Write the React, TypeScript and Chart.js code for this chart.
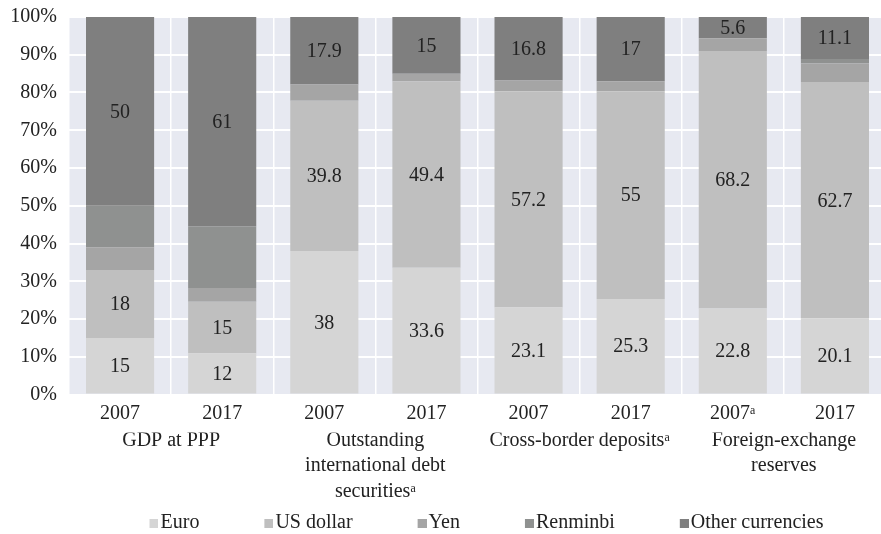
import React, { useEffect, useRef } from 'react';
import { Chart, registerables } from 'chart.js';

Chart.register(...registerables);

// ---- data ----
const yearLabels = ['2007', '2017', '2007', '2017', '2007', '2017', '2007ᵃ', '2017'];
const groupLabels = [
  ['GDP at PPP'],
  ['Outstanding', 'international debt', 'securitiesᵃ'],
  ['Cross-border depositsᵃ'],
  ['Foreign-exchange', 'reserves'],
];
const seriesNames = ['Euro', 'US dollar', 'Yen', 'Renminbi', 'Other currencies'];
const euro = [15, 12, 38, 33.6, 23.1, 25.3, 22.8, 20.1];
const usDollar = [18, 15, 39.8, 49.4, 57.2, 55, 68.2, 62.7];
const yen = [6, 4, 4.3, 2, 2.9, 2.7, 3.4, 4.9];
const renminbi = [11, 18, 0, 0, 0, 0, 0, 1.2];
const other = [50, 61, 17.9, 15, 16.8, 17, 5.6, 11.1];
const seriesLabelled = [true, true, false, false, true];
const yTicks = [0, 10, 20, 30, 40, 50, 60, 70, 80, 90, 100];

// ---- styles ----
const seriesColors = ['#d5d5d5', '#bfbfbf', '#a5a5a5', '#8f9190', '#7f7f7f'];
const plotBg = '#e7e9f1';
const textColor = '#222222';
const FONT = '"Liberation Serif", "DejaVu Serif", serif';
const FS = 20;

const allSeries = [euro, usDollar, yen, renminbi, other];
const totals = yearLabels.map((_, i) => allSeries.reduce((s, arr) => s + arr[i], 0));

const LEG_PAD = 14;
const GAP = 52;
function makeSwatch(color: string) {
  const c = document.createElement('canvas');
  c.width = GAP + 16;
  c.height = 9;
  const ctx = c.getContext('2d')!;
  ctx.fillStyle = color;
  ctx.fillRect(c.width - 9, 0, 9, 9);
  return c;
}

const bgPlugin = {
  id: 'plotBg',
  beforeDraw(chart: any) {
    const { ctx, chartArea } = chart;
    if (!chartArea) return;
    ctx.save();
    ctx.fillStyle = plotBg;
    ctx.fillRect(chartArea.left, chartArea.top, chartArea.right - chartArea.left, chartArea.bottom - chartArea.top);
    ctx.restore();
  },
};

const legendShift = {
  id: 'legendShift',
  afterLayout(chart: any) {
    if (chart.legend) {
      chart.legend.left += 18;
      chart.legend.right += 18;
    }
  },
};

const labelPlugin = {
  id: 'segLabels',
  afterDatasetsDraw(chart: any) {
    const { ctx } = chart;
    ctx.save();
    ctx.font = `${FS}px ${FONT}`;
    ctx.fillStyle = textColor;
    ctx.textAlign = 'center';
    ctx.textBaseline = 'middle';
    chart.data.datasets.forEach((ds: any, di: number) => {
      if (!seriesLabelled[di]) return;
      const meta = chart.getDatasetMeta(di);
      meta.data.forEach((el: any, i: number) => {
        const raw = allSeries[di][i];
        if (!raw) return;
        const { x, y, base } = el.getProps(['x', 'y', 'base'], true);
        ctx.fillText(String(raw), x, (y + base) / 2 + 1);
      });
    });
    ctx.restore();
  },
};

export default function App() {
  const ref = useRef<HTMLCanvasElement>(null);
  useEffect(() => {
    if (!ref.current) return;
    const swatches = seriesColors.map(makeSwatch);
    const chart = new Chart(ref.current, {
      type: 'bar',
      data: {
        labels: yearLabels,
        datasets: seriesNames.map((name, si) => ({
          label: name,
          data: allSeries[si].map((v, i) => (v / totals[i]) * 100),
          backgroundColor: seriesColors[si],
          borderWidth: 0,
          categoryPercentage: 1,
          barPercentage: 0.667,
        })),
      },
      options: {
        responsive: false,
        animation: false,
        devicePixelRatio: 1,
        layout: { padding: { top: 17, left: 0, right: 0, bottom: 0 } },
        plugins: {
          tooltip: { enabled: false },
          legend: {
            position: 'bottom',
            labels: {
              color: textColor,
              font: { family: FONT, size: FS },
              padding: LEG_PAD,
              usePointStyle: true,
              pointStyleWidth: GAP,
              boxHeight: FS,
              generateLabels: (ch: any) =>
                Chart.defaults.plugins.legend.labels
                  .generateLabels(ch)
                  .map((it: any, i: number) => ({ ...it, pointStyle: swatches[i] })),
            },
          },
        },
        scales: {
          x: {
            stacked: true,
            offset: true,
            grid: { color: '#ffffff', lineWidth: 1.5, drawTicks: false, offset: true },
            border: { display: false },
            ticks: { color: textColor, font: { family: FONT, size: FS, lineHeight: 1.2 }, padding: 7, maxRotation: 0, autoSkip: false },
          },
          x2: {
            type: 'category',
            labels: groupLabels as any,
            position: 'bottom',
            offset: true,
            grid: { display: false, drawTicks: false },
            border: { display: false },
            ticks: { color: textColor, font: { family: FONT, size: FS, lineHeight: 25.5 / FS }, padding: -5, maxRotation: 0, autoSkip: false },
          },
          y: {
            stacked: true,
            min: 0,
            max: 100,
            afterFit: (s: any) => {
              s.width = 69;
              s.paddingTop = 0;
              s.paddingBottom = 0;
            },
            afterBuildTicks: (s: any) => {
              s.ticks = yTicks.map((v) => ({ value: v }));
            },
            grid: { color: '#ffffff', lineWidth: 2, drawTicks: false },
            border: { display: false },
            ticks: {
              color: textColor,
              font: { family: FONT, size: FS },
              padding: 12,
              callback: (v: any) => `${v}%`,
            },
          },
        },
      } as any,
      plugins: [bgPlugin, labelPlugin, legendShift],
    });
    return () => chart.destroy();
  }, []);

  return (
    <div style={{ position: 'absolute', left: 0, top: 0, width: 881, height: 534, overflow: 'hidden', background: '#fff' }}>
      <canvas ref={ref} width={886} height={543} style={{ display: 'block', width: 886, height: 543 }} />
    </div>
  );
}
